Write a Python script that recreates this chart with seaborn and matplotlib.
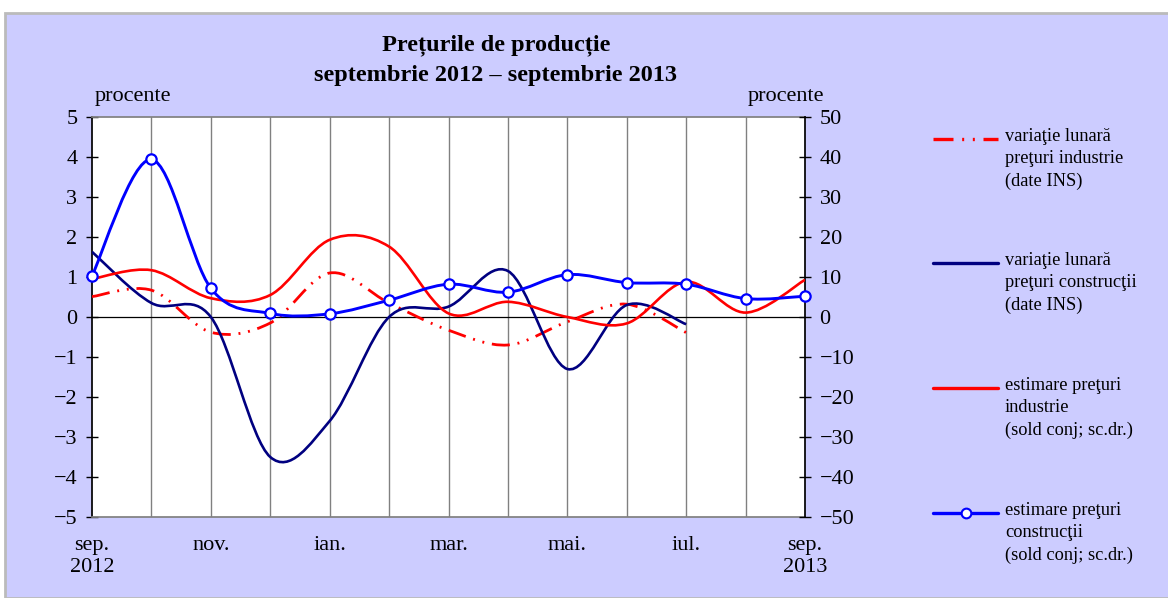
import numpy as np
import matplotlib
matplotlib.use("Agg")
import matplotlib.pyplot as plt
import seaborn as sns
from matplotlib.path import Path
from matplotlib.patches import PathPatch, Rectangle
from matplotlib.lines import Line2D

# data (monthly, sep 2012 .. sep 2013)
month_labels = ['sep.\n2012', '', 'nov.', '', 'ian.', '', 'mar.', '', 'mai.', '', 'iul.', '', 'sep.\n2013']
var_industrie = [0.51, 0.67, -0.38, -0.15, 1.10, 0.35, -0.33, -0.70, -0.12, 0.32, -0.39]
var_constructii = [1.63, 0.35, 0.00, -3.50, -2.60, 0.00, 0.26, 1.15, -1.30, 0.30, -0.18]
est_industrie = [9.5, 11.7, 4.7, 5.5, 19.3, 17.6, 0.9, 3.8, 0.0, -1.6, 8.8, 1.1, 9.3]
est_constructii = [10.3, 39.4, 7.2, 0.9, 0.8, 4.2, 8.2, 6.2, 10.6, 8.6, 8.2, 4.6, 5.2]

RED = '#FF0000'
NAVY = '#000080'
BLUE = '#0000FF'
BG = '#CCCCFF'
DASHDOT = (0, (6.5, 2.8, 0.7, 2.8, 0.7, 2.8))


def smooth_path(vals):
    """excel-like smoothed line: bezier segments through the data points"""
    p = np.column_stack([np.arange(len(vals), dtype=float), np.asarray(vals, dtype=float)])
    ext = np.vstack([p[0], p, p[-1]])
    verts = [p[0]]
    codes = [Path.MOVETO]
    for i in range(len(p) - 1):
        c1 = ext[i + 1] + (ext[i + 2] - ext[i]) / 6
        c2 = ext[i + 2] - (ext[i + 3] - ext[i + 1]) / 6
        verts += [c1, c2, p[i + 1]]
        codes += [Path.CURVE4] * 3
    return Path(verts, codes)


sns.set_theme(style="white")
plt.rcParams['font.family'] = ['Liberation Serif', 'DejaVu Serif']
plt.rcParams['axes.unicode_minus'] = True
plt.rcParams['text.color'] = 'black'
plt.rcParams['xtick.color'] = 'black'
plt.rcParams['ytick.color'] = 'black'
plt.rcParams['axes.labelcolor'] = 'black'

fig = plt.figure(figsize=(11.68, 5.98), dpi=100)
fig.patch.set_facecolor('white')
fig.patches.append(Rectangle((5 / 1168, 0), 1.0, 1 - 13 / 598, transform=fig.transFigure,
                             facecolor=BG, edgecolor='#BBBBBB', linewidth=2, zorder=-10))

ax = fig.add_axes([92 / 1168, 81 / 598, 713 / 1168, 400 / 598])
ax.set_facecolor('white')
ax2 = ax.twinx()

x = np.arange(len(month_labels))
ax.set_xlim(0, 12)
ax.set_ylim(-5, 5)
ax2.set_ylim(-50, 50)
ax.set_xticks(x)
ax.set_xticklabels(month_labels)
ax.set_yticks(range(-5, 6))
ax2.set_yticks(range(-50, 51, 10))

for xi in x[1:-1]:
    ax.axvline(xi, color='#808080', lw=1, zorder=0)
ax.axhline(0, color='black', lw=0.9, zorder=1)

ax.add_patch(PathPatch(smooth_path(var_industrie), fill=False, edgecolor=RED, lw=2.0,
                       linestyle=DASHDOT, zorder=3))
ax.add_patch(PathPatch(smooth_path(var_constructii), fill=False, edgecolor=NAVY, lw=1.9, zorder=3))
ax2.add_patch(PathPatch(smooth_path(est_industrie), fill=False, edgecolor=RED, lw=1.9, zorder=3))
ax2.add_patch(PathPatch(smooth_path(est_constructii), fill=False, edgecolor=BLUE, lw=2.1, zorder=4))
sns.scatterplot(x=x, y=est_constructii, ax=ax2, marker='o', s=55, color='white',
                edgecolor=BLUE, linewidth=1.6, zorder=5, clip_on=False)

for a in (ax, ax2):
    for s in a.spines.values():
        s.set_visible(False)
ax.spines['left'].set_visible(True)
ax.spines['left'].set_color('black')
ax.spines['top'].set_visible(True)
ax.spines['top'].set_color('#808080')
ax.spines['bottom'].set_visible(True)
ax.spines['bottom'].set_color('#808080')
ax2.spines['right'].set_visible(True)
ax2.spines['right'].set_color('black')

ax.tick_params(axis='x', length=0, pad=14, labelsize=16, colors='black')
ax.tick_params(axis='y', direction='inout', length=9, width=1, color='black', labelsize=16, pad=6,
               left=True, labelcolor='black')
ax2.tick_params(axis='y', direction='inout', length=9, width=1, color='black', labelsize=16, pad=6,
                right=True, labelcolor='black')
ax2.set_ylabel('')
ax2.set_xlabel('')

fig.text(496 / 1168, 1 - 45 / 598, 'Prețurile de producție', ha='center', va='center',
         fontsize=17.5, fontweight='bold')
fig.text(496 / 1168, 1 - 75 / 598, 'septembrie 2012 – septembrie 2013', ha='center', va='center',
         fontsize=17.5, fontweight='bold')
fig.text(95 / 1168, 1 - 96 / 598, 'procente', ha='left', va='center', fontsize=16)
fig.text(748 / 1168, 1 - 96 / 598, 'procente', ha='left', va='center', fontsize=16)

# legend drawn by hand so the sample sits on the first text line
legend_items = [
    ('variaţie lunară\npreţuri industrie\n(date INS)', dict(color=RED, lw=2.4, linestyle=(0, (6, 2.6, 0.6, 2.6, 0.6, 2.6)))),
    ('variaţie lunară\npreţuri construcţii\n(date INS)', dict(color=NAVY, lw=2.4)),
    ('estimare preţuri\nindustrie\n(sold conj; sc.dr.)', dict(color=RED, lw=2.4)),
    ('estimare preţuri\nconstrucţii\n(sold conj; sc.dr.)', dict(color=BLUE, lw=2.4, marker='o', markersize=7,
                                                               markerfacecolor='white', markeredgecolor=BLUE,
                                                               markeredgewidth=1.5, markevery=[1])),
]
legend_y = [139, 263, 388, 513]
for (label, style), ly in zip(legend_items, legend_y):
    yf = 1 - ly / 598
    fig.add_artist(Line2D([933 / 1168, 965.5 / 1168, 998 / 1168], [yf, yf, yf],
                          transform=fig.transFigure, **style))
    fig.text(1005 / 1168, yf + 11 / 598, label, ha='left', va='top', fontsize=13.2, linespacing=1.4)

plt.savefig('out.png', dpi=100, facecolor=fig.get_facecolor())
